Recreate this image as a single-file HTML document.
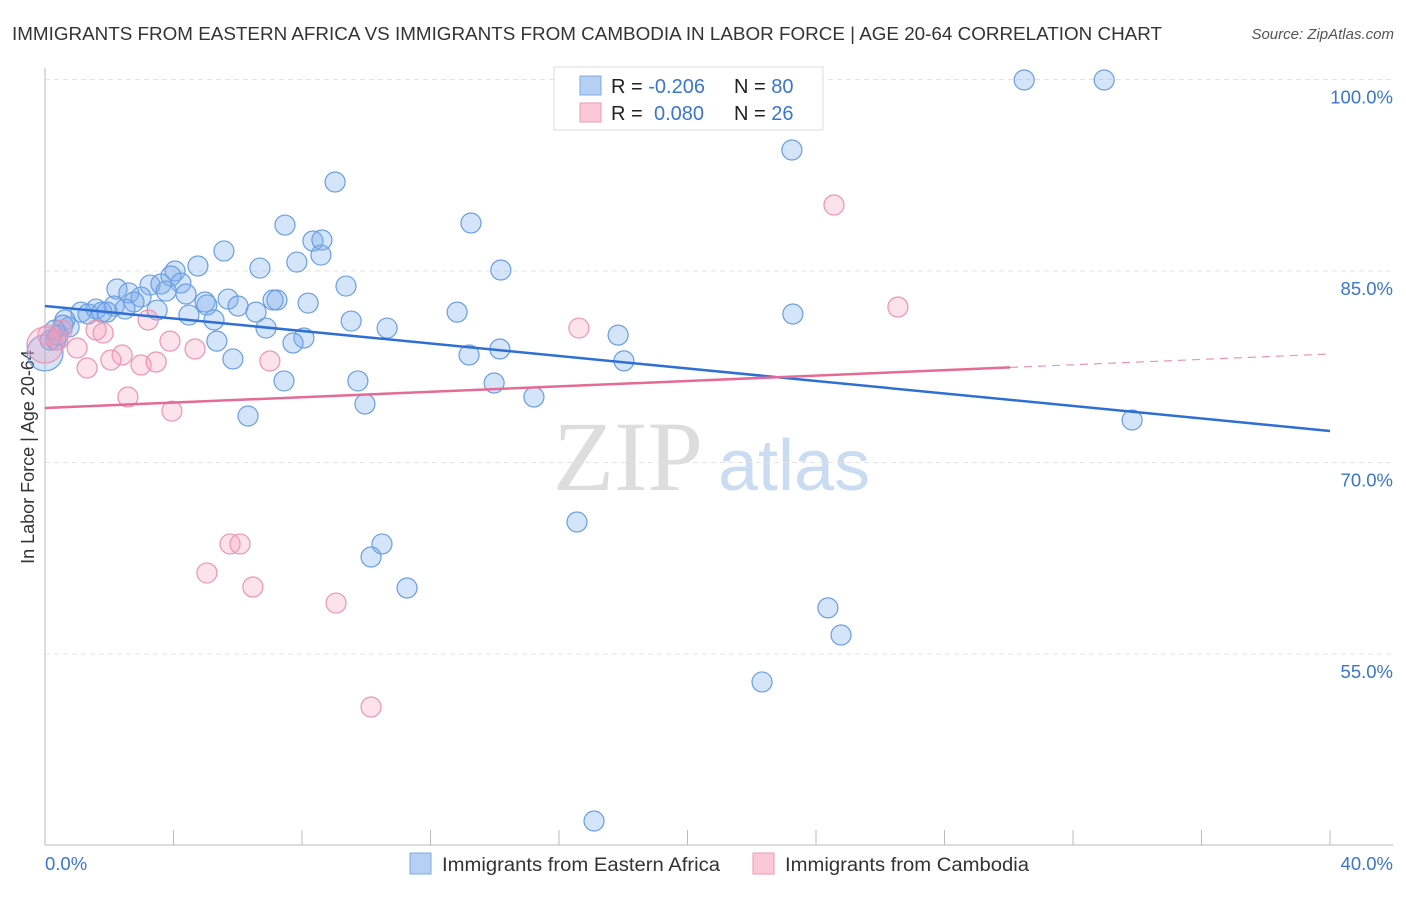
<!DOCTYPE html>
<html><head><meta charset="utf-8"><style>
body{margin:0;background:#fff;font-family:"Liberation Sans",sans-serif;}
svg text{font-family:"Liberation Sans",sans-serif;}
</style></head><body>
<svg id="chart" width="1406" height="892" xmlns="http://www.w3.org/2000/svg">
<text x="12" y="40" font-size="18.5" fill="#333" textLength="1150" lengthAdjust="spacingAndGlyphs">IMMIGRANTS FROM EASTERN AFRICA VS IMMIGRANTS FROM CAMBODIA IN LABOR FORCE | AGE 20-64 CORRELATION CHART</text>
<text x="1394" y="39" font-size="15" fill="#555" font-style="italic" text-anchor="end">Source: ZipAtlas.com</text>
<text x="0" y="0" transform="translate(34,457) rotate(-90)" font-size="18" fill="#333" text-anchor="middle">In Labor Force | Age 20-64</text>
<g><text x="553" y="490" font-size="100" fill="#ddd" style="font-family:'Liberation Serif',serif">ZIP</text><text x="718" y="490" font-size="72" fill="#c9dcf2">atlas</text></g>
<g id="grid"></g><g id="axes"></g><g id="pts"></g><g id="trend"></g>
<g>
<rect x="554" y="67" width="269" height="63" fill="#fff" stroke="#ddd"/>
<rect x="580" y="76" width="21" height="19" fill="#b5d0f3" stroke="#7ea9e3"/>
<rect x="580" y="103" width="21" height="19" fill="#fbc8d8" stroke="#ee9ab6"/>
<text x="611" y="93" font-size="20" fill="#222">R = <tspan fill="#3a75d0">-0.206</tspan></text>
<text x="734" y="93" font-size="20" fill="#222">N = <tspan fill="#3a75d0">80</tspan></text>
<text x="611" y="120" font-size="20" fill="#222">R = <tspan fill="#3a75d0" x="654">0.080</tspan></text>
<text x="734" y="120" font-size="20" fill="#222">N = <tspan fill="#3a75d0">26</tspan></text>
</g>
<g>
<rect x="410" y="853" width="21" height="21" fill="#b5d0f3" stroke="#7ea9e3"/>
<text x="442" y="871" font-size="19" fill="#333" textLength="278" lengthAdjust="spacingAndGlyphs">Immigrants from Eastern Africa</text>
<rect x="753" y="853" width="21" height="21" fill="#fbc8d8" stroke="#ee9ab6"/>
<text x="785" y="871" font-size="19" fill="#333" textLength="244" lengthAdjust="spacingAndGlyphs">Immigrants from Cambodia</text>
</g>
</svg>
<script>
const yTicks=[100,85,70,55];
const xTickLabels=["0.0%","40.0%"];
const blueX=[9.03,7.47,13.26,8.34,8.62,8.59,5.57,7.84,6.69,4.76,14.19,4.05,3.92,4.23,3.27,3.61,9.37,2.24,2.61,3.77,4.39,5.70,2.99,4.98,7.10,7.22,8.19,2.77,5.04,6.01,1.59,2.15,2.49,3.49,1.12,1.34,1.77,1.93,4.48,6.57,12.83,5.26,9.53,0.62,0.75,0.56,6.88,10.65,17.84,8.06,7.72,5.35,0.34,14.16,13.20,5.85,18.02,7.44,9.74,13.98,15.22,9.96,6.32,33.84,23.28,23.25,30.48,32.97,16.56,10.49,10.15,11.27,24.37,24.78,22.32,17.09,0,0.31,0.16,0.40];
const blueY=[91.97,88.60,88.76,87.35,87.43,86.25,86.57,85.70,85.23,85.39,85.08,85.00,84.61,84.06,83.90,83.98,83.82,83.59,83.28,83.43,83.20,82.80,82.96,82.57,82.73,82.73,82.49,82.57,82.34,82.26,82.02,82.26,82.02,81.94,81.78,81.63,81.78,81.78,81.55,81.78,81.78,81.16,81.08,81.16,80.61,80.76,80.53,80.53,79.98,79.75,79.36,79.51,79.59,78.89,78.42,78.11,77.96,76.39,76.39,76.23,75.13,74.58,73.64,73.33,81.63,94.48,99.96,99.96,65.34,63.62,62.60,60.17,58.61,56.49,52.81,41.92,78.58,80.38,79.59,79.98];
const pinkX=[24.56,26.55,16.62,3.21,1.59,1.81,0.53,0.09,0.40,1.00,2.40,2.05,3.89,4.67,2.99,3.46,7.00,1.31,2.58,3.95,5.76,6.07,5.04,6.47,9.06,10.15,0];
const pinkY=[90.17,82.18,80.53,81.16,80.38,80.14,80.38,79.98,79.59,78.97,78.42,78.03,79.51,78.89,77.64,77.87,77.95,77.40,75.13,74.03,63.62,63.62,61.35,60.25,58.99,50.85,79.2];
const blueTrend=[82.26,72.47];
const pinkTrend=[74.27,78.50];
const pinkSolidEnd=30.04;
const NS="http://www.w3.org/2000/svg";
const sx=v=>45+v/40*1285;
const sy=v=>79.5+(100-v)/15*191.5;
function mk(tag,attrs,parent){const e=document.createElementNS(NS,tag);for(const k in attrs)e.setAttribute(k,attrs[k]);document.getElementById(parent).appendChild(e);return e;}
yTicks.forEach(t=>{
 const l=mk('line',{x1:45,x2:1393,y1:sy(t),y2:sy(t),stroke:'#e3e3e3','stroke-dasharray':'5,4'},'grid');
 
 
 const tx=mk('text',{x:1393,y:sy(t)+24,'font-size':18.5,fill:'#3a75d0','text-anchor':'end'},'grid');
 tx.textContent=t.toFixed(1)+'%';
 
 
});
const ax=mk('line',{x1:45,x2:45,y1:68,y2:845,stroke:'#bbb'},'axes');


const bx=mk('line',{x1:45,x2:1393,y1:845,y2:845,stroke:'#bbb'},'axes');


for(let i=0;i<=10;i++){const t=mk('line',{x1:sx(i*4),x2:sx(i*4),y1:830,y2:845,stroke:'#bbb'},'axes');
 
 }
xTickLabels.forEach((s,i)=>{const t=mk('text',{x:i?1393:45,y:870,'font-size':18.5,fill:'#3a75d0','text-anchor':i?'end':'start'},'axes');t.textContent=s;
 
 });
function dots(X,Y,fill,stroke,name){X.forEach((x,i)=>{const big=(x===0);const c=mk('circle',{cx:sx(x),cy:sy(Y[i]),r:big?18:10,fill:fill,stroke:stroke,'stroke-width':1.2},'pts');
 
 });}
dots(blueX,blueY,'rgba(120,170,235,0.32)','#6a9ee0','point-eastern-africa');
dots(pinkX,pinkY,'rgba(245,160,190,0.3)','#ec94b2','point-cambodia');
const bt=mk('line',{x1:sx(0),y1:sy(blueTrend[0]),x2:sx(40),y2:sy(blueTrend[1]),stroke:'#2e6fd4','stroke-width':2.5},'trend');


const pm=pinkTrend[0]+(pinkTrend[1]-pinkTrend[0])*pinkSolidEnd/40;
const pt=mk('line',{x1:sx(0),y1:sy(pinkTrend[0]),x2:sx(pinkSolidEnd),y2:sy(pm),stroke:'#e56a94','stroke-width':2.5},'trend');


const pd=mk('line',{x1:sx(pinkSolidEnd),y1:sy(pm),x2:sx(40),y2:sy(pinkTrend[1]),stroke:'#e995b2','stroke-width':1.2,'stroke-dasharray':'8,6'},'trend');


</script>
</body></html>
